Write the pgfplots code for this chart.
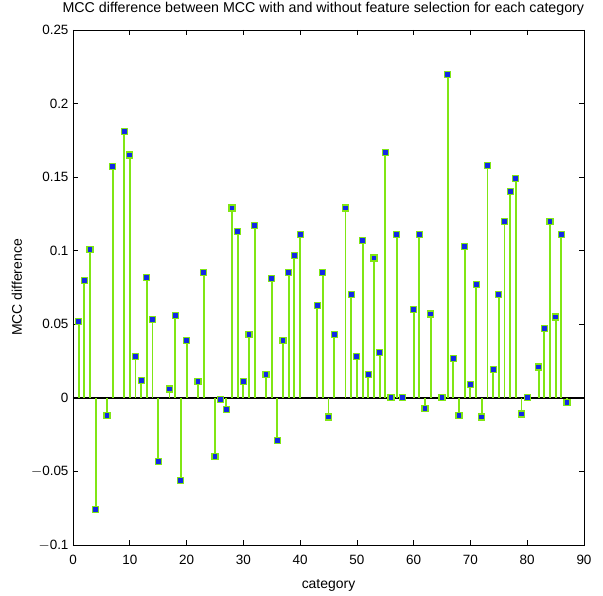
\documentclass[border=0pt]{standalone}
\usepackage{pgfplots}
\pgfplotsset{compat=1.18}
\usepackage{fontspec}
\setmainfont{Liberation Sans}
\definecolor{stemgreen}{RGB}{128,230,20}
\definecolor{markblue}{RGB}{20,40,230}
\begin{document}
\begin{tikzpicture}
\path[use as bounding box] (-73bp,-51bp) rectangle (530bp,545bp);
\begin{axis}[
  at={(0,0)}, anchor=south west,
  scale only axis, width=511bp, height=515bp,
  xmin=0, xmax=90, ymin=-0.1, ymax=0.25,
  xtick={0,10,...,90},
  ytick={-0.1,-0.05,0,0.05,0.1,0.15,0.2,0.25},
  yticklabels={$-$0.1,$-$0.05,0,0.05,0.1,0.15,0.2,0.25},
  tick align=inside, major tick length=5bp,
  axis line style={black, line width=0.9pt},
  tick style={black, line width=0.7pt},
  /pgf/number format/assume math mode=true,
  ticklabel style={font=\fontsize{13.5}{15}\selectfont},
  xticklabel style={yshift=-7bp},
  yticklabel style={xshift=-1bp},
  title={MCC difference between MCC with and without feature selection for each category},
  title style={font=\fontsize{14.3}{16}\selectfont, at={(axis description cs:0.49,1.029)}, anchor=center},
  xlabel={category}, ylabel={MCC difference},
  label style={font=\fontsize{14}{16}\selectfont},
  xlabel style={at={(axis description cs:0.5,-0.0777)}, anchor=center},
  ylabel style={at={(axis description cs:-0.1096,0.5)}, anchor=center},
]
\addplot[black, line width=1.3pt, forget plot] coordinates {(0,0) (90,0)};
\addplot[ycomb, color=stemgreen, line width=1.9pt, mark=square*,
  mark size=3bp, mark options={draw=stemgreen, fill=markblue, line width=1.2pt}]
coordinates {
(1,0.052) (2,0.080) (3,0.101) (4,-0.076) (6,-0.012) (7,0.157) (9,0.181) (10,0.165)
(11,0.028) (12,0.012) (13,0.082) (14,0.053) (15,-0.043) (17,0.006) (18,0.056) (19,-0.056)
(20,0.039) (22,0.011) (23,0.085) (25,-0.040) (26,-0.001) (27,-0.008) (28,0.129) (29,0.113)
(30,0.011) (31,0.043) (32,0.117) (34,0.016) (35,0.081) (36,-0.029) (37,0.039) (38,0.085)
(39,0.097) (40,0.111) (43,0.063) (44,0.085) (45,-0.013) (46,0.043) (48,0.129) (49,0.070)
(50,0.028) (51,0.107) (52,0.016) (53,0.095) (54,0.031) (55,0.167) (56,0.000) (57,0.111)
(58,0.000) (60,0.060) (61,0.111) (62,-0.007) (63,0.057) (65,0.000) (66,0.220) (67,0.027)
(68,-0.012) (69,0.103) (70,0.009) (71,0.077) (72,-0.013) (73,0.158) (74,0.019) (75,0.070)
(76,0.120) (77,0.140) (78,0.149) (79,-0.011) (80,0.000) (82,0.021) (83,0.047) (84,0.120)
(85,0.055) (86,0.111) (87,-0.003)
};
\end{axis}
\end{tikzpicture}
\end{document}
